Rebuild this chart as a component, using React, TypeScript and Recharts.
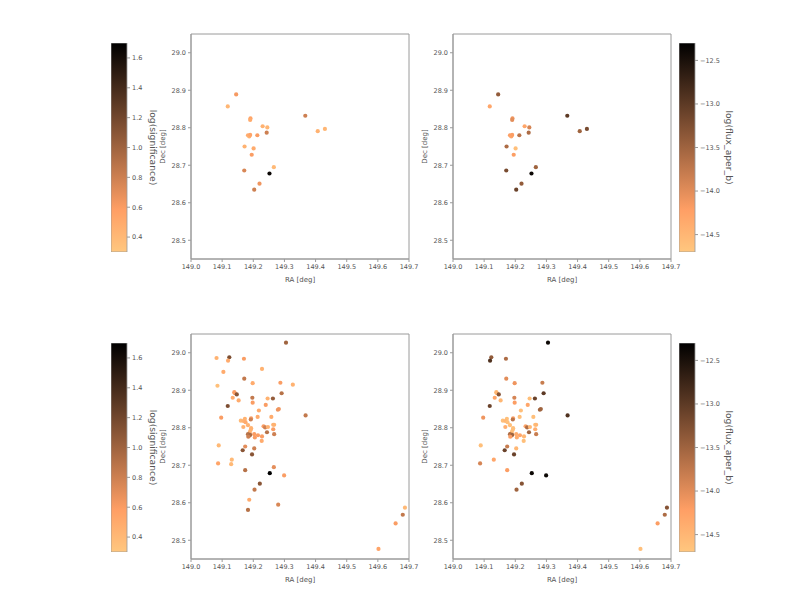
import {
  ScatterChart,
  Scatter,
  XAxis,
  YAxis,
  ReferenceArea,
  BarChart,
  Bar,
} from "recharts";

// top row: the smaller source list
const topRa = [
  149.145, 149.118, 149.191, 149.19, 149.23, 149.245, 149.243, 149.183, 149.187, 149.19, 149.213,
  149.172, 149.201, 149.195, 149.266, 149.171, 149.252, 149.22, 149.203, 149.367, 149.407, 149.43,
];
const topDec = [
  28.889, 28.857, 28.825, 28.821, 28.804, 28.801, 28.787, 28.78, 28.777, 28.781, 28.78,
  28.75, 28.745, 28.728, 28.695, 28.686, 28.678, 28.651, 28.635, 28.832, 28.791, 28.797,
];
const topSig = [
  0.62, 0.42, 0.55, 0.5, 0.45, 0.42, 0.8, 0.5, 0.45, 0.55, 0.6,
  0.45, 0.5, 0.6, 0.4, 0.75, 1.65, 0.65, 0.8, 0.8, 0.45, 0.42,
];
const topFlux = [
  -13.4, -14.3, -14.1, -14.0, -14.3, -13.9, -13.6, -14.2, -14.3, -14.2, -13.7,
  -13.6, -14.6, -14.2, -13.5, -13.2, -12.4, -13.4, -13.1, -13.0, -13.5, -13.2,
];

// bottom row: the full list (null flux = not shown)
const botRa = [
  149.305, 149.082, 149.123, 149.119, 149.17, 149.104, 149.228, 149.171, 149.198, 149.287,
  149.327, 149.085, 149.139, 149.141, 149.147, 149.291, 149.134, 149.153, 149.197, 149.246,
  149.263, 149.198, 149.24, 149.118, 149.218, 149.279, 149.282, 149.368, 149.097, 149.214,
  149.258, 149.173, 149.16, 149.168, 149.175, 149.183, 149.193, 149.192, 149.168, 149.193,
  149.192, 149.189, 149.233, 149.238, 149.247, 149.264, 149.267, 149.264, 149.183, 149.187,
  149.19, 149.184, 149.203, 149.205, 149.215, 149.228, 149.244, 149.267, 149.227, 149.089,
  149.174, 149.203, 149.166, 149.196, 149.087, 149.131, 149.129, 149.266, 149.174, 149.253,
  149.299, 149.221, 149.204, 149.187, 149.183, 149.28, 149.602, 149.657, 149.68, 149.687,
];
const botDec = [
  29.027, 28.986, 28.988, 28.979, 28.984, 28.949, 28.957, 28.931, 28.919, 28.92,
  28.915, 28.912, 28.895, 28.892, 28.889, 28.892, 28.88, 28.873, 28.88, 28.878,
  28.878, 28.867, 28.861, 28.858, 28.846, 28.848, 28.85, 28.833, 28.827, 28.829,
  28.829, 28.824, 28.819, 28.818, 28.815, 28.807, 28.825, 28.822, 28.802, 28.799,
  28.795, 28.789, 28.804, 28.801, 28.802, 28.808, 28.808, 28.796, 28.783, 28.779,
  28.781, 28.776, 28.783, 28.774, 28.78, 28.777, 28.788, 28.783, 28.765, 28.753,
  28.75, 28.745, 28.74, 28.729, 28.705, 28.715, 28.703, 28.695, 28.687, 28.679,
  28.673, 28.651, 28.635, 28.608, 28.581, 28.595, 28.477, 28.545, 28.568, 28.587,
];
const botSig = [
  1.0, 0.45, 1.15, 0.5, 0.6, 0.5, 0.45, 0.85, 0.5, 0.6,
  0.45, 0.35, 0.6, 0.6, 1.1, 0.9, 0.5, 0.5, 0.85, 0.45,
  1.05, 0.6, 0.6, 1.15, 0.5, 0.65, 0.65, 0.85, 0.6, 0.5,
  0.5, 0.45, 0.4, 0.45, 0.5, 0.45, 0.6, 0.8, 0.45, 0.45,
  0.45, 0.45, 0.6, 0.8, 0.45, 0.45, 0.45, 0.6, 0.9, 0.85,
  0.95, 0.8, 0.6, 0.6, 0.6, 0.6, 0.9, 0.8, 0.5, 0.4,
  0.7, 0.8, 1.1, 1.1, 0.55, 0.4, 0.4, 0.7, 0.9, 1.7,
  0.6, 1.1, 0.85, 0.5, 0.9, 0.75, 0.55, 0.6, 0.85, 0.4,
];
const botFlux = [
  -12.4, null, -13.4, -12.9, -13.6, null, null, -14.0, -14.1, -13.8,
  null, null, -14.5, -14.5, -13.3, -13.0, -14.3, -14.5, -13.9, -14.6,
  -13.1, -14.2, -14.3, -13.1, -14.6, -13.5, -13.5, -12.9, -14.1, -14.6,
  -14.6, -14.6, -14.6, -14.5, -14.6, -14.6, -14.2, -13.7, -14.4, -14.6,
  -14.6, -14.6, -14.3, -13.6, -14.5, -14.6, -14.5, -14.4, -13.6, -14.0,
  -13.5, -14.2, -14.4, -14.4, -14.3, -14.5, -13.5, -13.8, -14.6, -14.6,
  -13.8, -14.5, -13.1, -13.1, -13.9, -14.3, null, null, -14.2, -12.4,
  -12.4, -13.3, -13.5, null, null, null, -14.6, -14.2, -13.6, -13.3,
];

const raTicks = [149.0, 149.1, 149.2, 149.3, 149.4, 149.5, 149.6, 149.7];
const decTicks = [28.5, 28.6, 28.7, 28.8, 28.9, 29.0];
const sigTicks = [0.4, 0.6, 0.8, 1.0, 1.2, 1.4, 1.6];
const fluxTicks = [-14.5, -14.0, -13.5, -13.0, -12.5];
const sigRange = [0.3, 1.7];
const fluxRange = [-14.7, -12.3];

const TEXT = "#555";
const SPINE = "#9a9a9a";

// matplotlib copper_r
function copperR(t: number) {
  const s = 1 - Math.max(0, Math.min(1, t));
  const r = Math.round(255 * Math.min(1, 1.25 * s));
  const g = Math.round(255 * 0.7812 * s);
  const b = Math.round(255 * 0.4975 * s);
  return `rgb(${r},${g},${b})`;
}

function rows(ra: number[], dec: number[], vals: (number | null)[], range: number[]) {
  const out: { ra: number; dec: number; color: string }[] = [];
  ra.forEach((x, i) => {
    const v = vals[i];
    if (v == null) return;
    out.push({ ra: x, dec: dec[i], color: copperR((v - range[0]) / (range[1] - range[0])) });
  });
  return out;
}

const f1 = (v: number) => v.toFixed(1);
const fMinus = (v: number) => v.toFixed(1).replace("-", "\u2212");

const Dot = (props: any) => (
  <circle cx={props.cx} cy={props.cy} r={2.1} fill={props.payload.color} />
);

function Panel({ left, top, data }: { left: number; top: number; data: any[] }) {
  return (
    <div style={{ position: "absolute", left, top }}>
      <ScatterChart width={278} height={266} margin={{ top: 10, right: 10, left: 0, bottom: 6 }}>
        <XAxis
          type="number"
          dataKey="ra"
          domain={[149.0, 149.7]}
          ticks={raTicks}
          tickFormatter={f1}
          tick={{ fontSize: 6.5, fill: TEXT }}
          tickSize={3}
          stroke={SPINE}
          height={25}
          allowDataOverflow
          label={{ value: "RA [deg]", position: "insideBottom", offset: 2, fontSize: 7, fill: TEXT }}
        />
        <YAxis
          type="number"
          dataKey="dec"
          domain={[28.45, 29.05]}
          ticks={decTicks}
          tickFormatter={f1}
          tick={{ fontSize: 6.5, fill: TEXT }}
          tickSize={3}
          stroke={SPINE}
          width={50}
          allowDataOverflow
          label={{
            value: "Dec [deg]",
            angle: -90,
            position: "insideLeft",
            offset: 22,
            fontSize: 7,
            fill: TEXT,
            style: { textAnchor: "middle" },
          }}
        />
        <ReferenceArea x1={149.0} x2={149.7} y1={28.45} y2={29.05} fill="none" fillOpacity={0} stroke={SPINE} />
        <Scatter data={data} isAnimationActive={false} shape={Dot} />
      </ScatterChart>
    </div>
  );
}

function ColorBar({
  left,
  top,
  id,
  range,
  ticks,
  format,
  label,
  labelOffset,
}: {
  left: number;
  top: number;
  id: string;
  range: number[];
  ticks: number[];
  format: (v: number) => string;
  label: string;
  labelOffset: number;
}) {
  const bar = [{ k: "cb", span: range }];
  return (
    <div style={{ position: "absolute", left, top }}>
      <BarChart width={80} height={209} data={bar} margin={{ top: 0, right: 0, left: 0, bottom: 0 }} barCategoryGap={0}>
        <defs>
          <linearGradient id={id} x1="0" y1="1" x2="0" y2="0">
            <stop offset="0" stopColor={copperR(0)} />
            <stop offset="0.2" stopColor={copperR(0.2)} />
            <stop offset="1" stopColor={copperR(1)} />
          </linearGradient>
        </defs>
        <XAxis dataKey="k" hide />
        <YAxis
          orientation="right"
          type="number"
          domain={range}
          ticks={ticks}
          tickFormatter={format}
          tick={{ fontSize: 6.5, fill: TEXT }}
          tickSize={3}
          stroke={SPINE}
          axisLine={false}
          width={64}
          allowDataOverflow
          label={{
            value: label,
            angle: 90,
            position: "insideLeft",
            offset: labelOffset,
            fontSize: 9.2,
            fill: TEXT,
            style: { textAnchor: "middle" },
          }}
        />
        <Bar dataKey="span" fill={`url(#${id})`} stroke={SPINE} strokeWidth={0.8} isAnimationActive={false} />
      </BarChart>
    </div>
  );
}

export default function App() {
  const tl = rows(topRa, topDec, topSig, sigRange);
  const tr = rows(topRa, topDec, topFlux, fluxRange);
  const bl = rows(botRa, botDec, botSig, sigRange);
  const br = rows(botRa, botDec, botFlux, fluxRange);

  return (
    <div
      style={{
        position: "absolute",
        left: 0,
        top: 0,
        width: 800,
        height: 600,
        background: "#fff",
        fontFamily: "DejaVu Sans",
      }}
    >
      <ColorBar left={111} top={43} id="cbSigTop" range={sigRange} ticks={sigTicks} format={f1} label="log(significance)" labelOffset={26} />
      <Panel left={141} top={24} data={tl} />
      <Panel left={403} top={24} data={tr} />
      <ColorBar left={679} top={43} id="cbFluxTop" range={fluxRange} ticks={fluxTicks} format={fMinus} label="log(flux_aper_b)" labelOffset={34} />

      <ColorBar left={111} top={343} id="cbSigBot" range={sigRange} ticks={sigTicks} format={f1} label="log(significance)" labelOffset={26} />
      <Panel left={141} top={324} data={bl} />
      <Panel left={403} top={324} data={br} />
      <ColorBar left={679} top={343} id="cbFluxBot" range={fluxRange} ticks={fluxTicks} format={fMinus} label="log(flux_aper_b)" labelOffset={34} />
    </div>
  );
}
